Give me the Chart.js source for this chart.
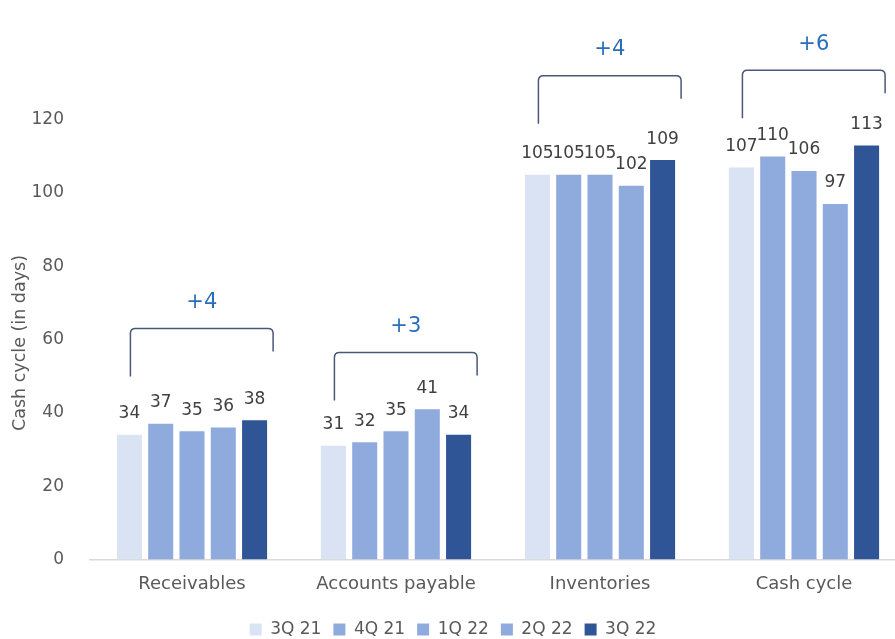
<!DOCTYPE html>
<html>
<head>
<meta charset="utf-8">
<script src="https://cdn.jsdelivr.net/npm/chart.js@4.4.0/dist/chart.umd.min.js"></script>
<style>
  html, body { margin: 0; padding: 0; background: #fff; overflow: hidden; height: 639px; }
  #wrap { width: 910px; height: 648px; }
</style>
</head>
<body>
<div id="wrap"><canvas id="cycle"></canvas></div>
<script>
var categories = ['Receivables', 'Accounts payable', 'Inventories', 'Cash cycle'];
var periods = ['3Q 21', '4Q 21', '1Q 22', '2Q 22', '3Q 22'];
var q3_21 = [34, 31, 105, 107];
var q4_21 = [37, 32, 105, 110];
var q1_22 = [35, 35, 105, 106];
var q2_22 = [36, 41, 102, 97];
var q3_22 = [38, 34, 109, 113];
var deltas = ['+4', '+3', '+4', '+6'];
var yTicks = [0, 20, 40, 60, 80, 100, 120];
// bracket top line, in axis units
var bracketTop = [63, 56.5, 132, 133.5];

var colors = ['#dae3f3', '#8faadc', '#8faadc', '#8faadc', '#2f5597'];
var fontFam = '"DejaVu Sans", sans-serif';

var valueLabels = {
  id: 'valueLabels',
  afterDatasetsDraw: function(chart) {
    var ctx = chart.ctx;
    ctx.save();
    ctx.font = '17px ' + fontFam;
    ctx.fillStyle = '#404040';
    ctx.textAlign = 'center';
    ctx.textBaseline = 'middle';
    chart.data.datasets.forEach(function(ds, i) {
      chart.getDatasetMeta(i).data.forEach(function(bar, j) {
        ctx.fillText(String(ds.data[j]), bar.x, bar.y - 21);
      });
    });
    ctx.restore();
  }
};

var brackets = {
  id: 'brackets',
  afterDatasetsDraw: function(chart) {
    var ctx = chart.ctx;
    var y = chart.scales.y;
    var first = chart.getDatasetMeta(0).data;
    var last = chart.getDatasetMeta(4).data;
    ctx.save();
    categories.forEach(function(c, j) {
      var x1 = first[j].x + 1;
      var x2 = last[j].x + last[j].width / 2 + 6;
      var top = y.getPixelForValue(bracketTop[j]);
      var r = 5;
      ctx.beginPath();
      ctx.moveTo(x1, top + 48);
      ctx.lineTo(x1, top + r);
      ctx.quadraticCurveTo(x1, top, x1 + r, top);
      ctx.lineTo(x2 - r, top);
      ctx.quadraticCurveTo(x2, top, x2, top + r);
      ctx.lineTo(x2, top + 23);
      ctx.strokeStyle = '#4a5878';
      ctx.lineWidth = 1.5;
      ctx.stroke();

      ctx.font = '21px ' + fontFam;
      ctx.fillStyle = '#2a6ebb';
      ctx.textAlign = 'center';
      ctx.textBaseline = 'middle';
      ctx.fillText(deltas[j], (x1 + x2) / 2, top - 26);
    });

    // axis title
    ctx.translate(20, 343);
    ctx.rotate(-Math.PI / 2);
    ctx.font = '17.5px ' + fontFam;
    ctx.fillStyle = '#595959';
    ctx.textAlign = 'center';
    ctx.textBaseline = 'middle';
    ctx.fillText('Cash cycle (in days)', 0, 0);
    ctx.restore();
  }
};

var sets = [q3_21, q4_21, q1_22, q2_22, q3_22].map(function(vals, i) {
  return {
    label: periods[i],
    data: vals,
    backgroundColor: colors[i],
    borderWidth: 0,
    categoryPercentage: 0.767,
    barPercentage: 0.8
  };
});

var myChart = new Chart(document.getElementById('cycle').getContext('2d'), {
  type: 'bar',
  data: { labels: categories, datasets: sets },
  options: {
    responsive: true,
    maintainAspectRatio: false,
    animation: false,
    layout: { padding: { left: 0, top: 0, right: 4, bottom: 0 } },
    plugins: {
      legend: {
        position: 'bottom',
        labels: {
          boxWidth: 12,
          boxHeight: 12,
          padding: 12,
          color: '#595959',
          font: { family: fontFam, size: 17 }
        }
      },
      tooltip: { enabled: false }
    },
    scales: {
      x: {
        afterFit: function(s) { s.height += 8; },
        grid: { display: false },
        border: { color: '#d9d9d9', width: 1.5 },
        ticks: { color: '#595959', padding: 6, font: { family: fontFam, size: 18 } }
      },
      y: {
        min: 0,
        max: 145,
        afterFit: function(s) { s.width = 90; },
        afterBuildTicks: function(s) {
          s.ticks = yTicks.map(function(v) { return { value: v }; });
        },
        grid: { display: false },
        border: { display: false },
        ticks: { color: '#595959', padding: 18, font: { family: fontFam, size: 17 } }
      }
    }
  },
  plugins: [valueLabels, brackets]
});
</script>
</body>
</html>
